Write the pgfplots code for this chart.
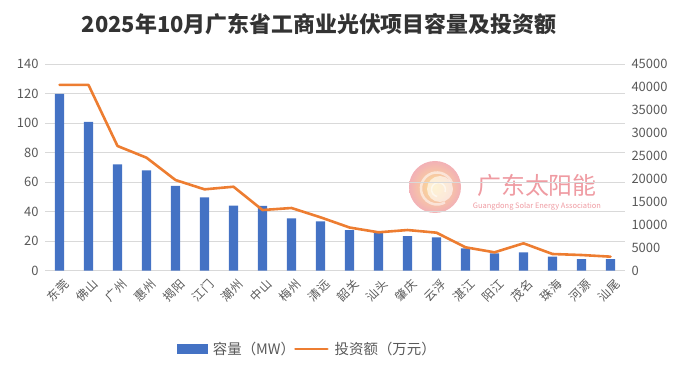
\documentclass[border=0pt]{standalone}
\usepackage{pgfplots}
\pgfplotsset{compat=1.18}
\usepackage{fontspec}
\setmainfont{Noto Sans CJK SC}
\definecolor{barblue}{HTML}{4472C4}
\definecolor{lineorange}{HTML}{ED7D31}
\definecolor{txt}{HTML}{595959}
\definecolor{ttl}{HTML}{333333}
\definecolor{grd}{HTML}{D9D9D9}
\definecolor{wmred}{HTML}{E8707A}
\definecolor{wmorange}{HTML}{F5A55A}

\pgfplotstableread{
x cap inv
0 120 40500
1 101 40500
2 72.2 27190
3 68.1 24640
4 57.5 19770
5 49.8 17740
6 44.1 18310
7 44.0 13230
8 35.5 13670
9 33.5 11640
10 27.6 9420
11 25.8 8370
12 23.5 8870
13 22.6 8290
14 15.2 5100
15 11.8 4010
16 12.5 5970
17 9.5 3640
18 7.9 3420
19 7.9 3060
}\datatable

\begin{document}
\begin{tikzpicture}
\path[use as bounding box] (0,0) rectangle (688bp,373bp);
% title
\node[font=\bfseries\fontsize{22}{26}\selectfont, text=ttl] at (319bp,349bp) {2025年10月广东省工商业光伏项目容量及投资额};
% watermark
\begin{scope}[opacity=0.55]
\shade[inner color=wmorange!60!yellow, outer color=wmred] (435bp,186bp) circle (26bp);
\fill[white, opacity=0.6] (440bp,184bp) circle (13bp);
\draw[white, line width=2.5bp] (452bp,190bp) arc (20:300:16bp);
\draw[white, line width=1.5bp] (445bp,181bp) arc (-20:260:7bp);
\end{scope}
\node[text=wmred, opacity=0.7, font=\fontsize{24}{26}\selectfont] at (537bp,188bp) {广东太阳能};
\node[text=wmred, opacity=0.7, font=\fontsize{7.5}{9}\selectfont] at (537bp,167bp) {Guangdong Solar Energy Association};

\begin{axis}[
  at={(45bp,102.3bp)}, anchor=south west,
  scale only axis, width=580bp, height=206.4bp,
  xmin=-0.5, xmax=19.5, ymin=0, ymax=140,
  xtick={0,...,19},
  xticklabels={东莞,佛山,广州,惠州,揭阳,江门,潮州,中山,梅州,清远,韶关,汕头,肇庆,云浮,湛江,阳江,茂名,珠海,河源,汕尾},
  xticklabel style={rotate=45, anchor=east, inner sep=0pt, text height=0.8em, text depth=0.1em,
    font=\fontsize{12}{13}\selectfont, text=txt, xshift=-3bp, yshift=-14bp},
  ytick={0,20,...,140},
  yticklabel style={font=\fontsize{13}{15}\selectfont, text=txt, xshift=-3bp},
  /pgf/number format/assume math mode=true,
  ymajorgrids, grid style={grd, line width=0.8bp},
  axis line style={draw=none},
  major tick length=0pt,
  clip=false,
]
\addplot[ybar, bar width=9.3bp, bar shift=0pt, fill=barblue, draw=none] table[x=x, y=cap] {\datatable};
\end{axis}

\begin{axis}[
  at={(45bp,102.3bp)}, anchor=south west,
  scale only axis, width=580bp, height=206.4bp,
  xmin=-0.5, xmax=19.5, ymin=0, ymax=45000,
  axis y line*=right, axis x line=none,
  ytick={0,5000,...,45000},
  scaled y ticks=false,
  /pgf/number format/1000 sep={},
  /pgf/number format/assume math mode=true,
  yticklabel style={font=\fontsize{13}{15}\selectfont, text=txt, xshift=3bp},
  axis line style={draw=none},
  major tick length=0pt,
  legend style={at={(0.452,-0.379)}, anchor=center, draw=none, fill=none,
    font=\fontsize{14.5}{16}\selectfont, text=txt, legend columns=-1,
    /tikz/every even column/.append style={column sep=-3bp},
    /tikz/every odd column/.append style={column sep=4bp}},
]
\addlegendimage{legend image code/.code={\fill[barblue] (0bp,-4.5bp) rectangle (30bp,4.5bp);}}
\addlegendentry{容量（MW）}
\addplot[lineorange, line width=2.6bp, line join=round, line cap=round, mark=none,
  legend image code/.code={\draw[lineorange, line width=2.6bp] (0bp,0bp) -- (32bp,0bp);}]
  table[x=x, y=inv] {\datatable};
\addlegendentry{投资额（万元）}
\end{axis}
\end{tikzpicture}
\end{document}
